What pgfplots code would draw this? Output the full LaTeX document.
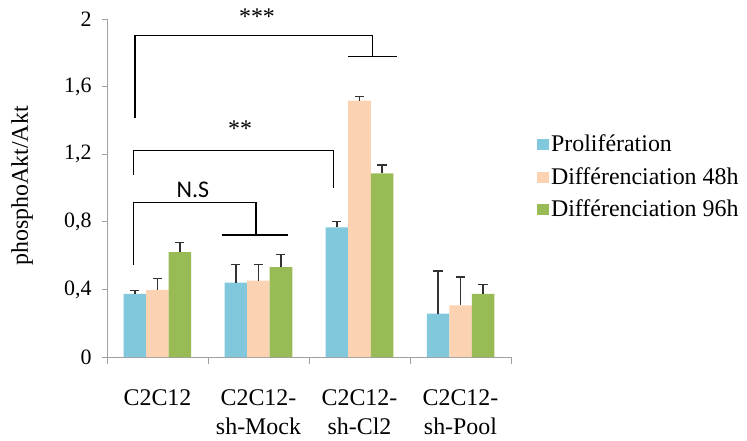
\documentclass[border=0pt]{standalone}
\usepackage{fontspec}
\setmainfont{Liberation Serif}
\newfontfamily\tnr{Liberation Serif}
\newfontfamily\nsfont{Carlito}
\usepackage{pgfplots}
\usepackage{pgfplotstable}
\pgfplotsset{compat=1.18}
\definecolor{cblue}{RGB}{130,200,220}
\definecolor{corange}{RGB}{251,211,178}
\definecolor{cgreen}{RGB}{152,187,86}
\definecolor{axgray}{RGB}{160,160,160}
\definecolor{errgray}{RGB}{50,50,50}

\pgfplotstableread{
x y e
0 0.373 0.022
1 0.440 0.108
2 0.767 0.033
3 0.256 0.253
}\prolif
\pgfplotstableread{
x y e
0 0.396 0.070
1 0.452 0.096
2 1.517 0.025
3 0.306 0.167
}\diffA
\pgfplotstableread{
x y e
0 0.621 0.055
1 0.532 0.073
2 1.087 0.049
3 0.373 0.057
}\diffB

\begin{document}
\begin{tikzpicture}
\useasboundingbox (-107bp,-84bp) rectangle (640bp,357bp);
\begin{axis}[
  scale only axis, width=404bp, height=338bp,
  xmin=-0.5, xmax=3.5, ymin=0, ymax=2,
  axis x line*=bottom, axis y line*=left,
  axis line style={axgray, line width=0.8bp},
  clip=false,
  ytick={0,0.4,0.8,1.2,1.6,2},
  yticklabel style={font=\tnr\fontsize{22}{26}\selectfont, xshift=-7bp, /pgf/number format/.cd, use comma, fixed, precision=1, assume math mode=true},
  y tick style={axgray, line width=0.8bp},
  xtick={0,1,2,3},
  xticklabels={C2C12, {C2C12-\\sh-Mock}, {C2C12-\\sh-Cl2}, {C2C12-\\sh-Pool}},
  xticklabel style={align=center, font=\tnr\fontsize{24}{29}\selectfont, anchor=north, yshift=-24bp},
  major x tick style={draw=none},
  minor xtick={-0.5,0.5,1.5,2.5,3.5},
  minor x tick style={axgray, line width=0.8bp},
  tick align=outside,
  major tick length=5bp, minor tick length=7bp,
  every axis y label/.style={at={(axis description cs:-0.210,0.506)}, rotate=90, anchor=center, font=\tnr\fontsize{24}{30}\selectfont},
  ylabel={phosphoAkt/Akt},
  ybar=0pt, bar width=22.5bp,
  legend style={at={(1.064,0.663)}, anchor=north west, draw=none, fill=none,
    font=\tnr\fontsize{24}{30}\selectfont, row sep=10bp, inner sep=0pt},
  legend cell align=left,
  legend image code/.code={\fill[#1] (0bp,-6bp) rectangle (12bp,5bp);},
  every error bar/.style={errgray, line width=1.2bp},
]
\addplot[fill=cblue, draw=none, bar shift=-22.5bp,
  error bars/.cd, y dir=plus, y explicit,
  error mark options={rotate=90, mark size=4.5bp, line width=1.2bp, errgray}]
  table[x=x, y=y, y error=e]{\prolif};
\addlegendentry{Prolifération}
\addplot[fill=corange, draw=none, bar shift=0bp,
  error bars/.cd, y dir=plus, y explicit,
  error mark options={rotate=90, mark size=4.5bp, line width=1.2bp, errgray}]
  table[x=x, y=y, y error=e]{\diffA};
\addlegendentry{Différenciation 48h}
\addplot[fill=cgreen, draw=none, bar shift=22.5bp,
  error bars/.cd, y dir=plus, y explicit,
  error mark options={rotate=90, mark size=4.5bp, line width=1.2bp, errgray}]
  table[x=x, y=y, y error=e]{\diffB};
\addlegendentry{Différenciation 96h}

% significance brackets
\draw[black, line width=1.2bp] (axis cs:-0.223,1.414) |- (axis cs:2.13,1.90) -- (axis cs:2.13,1.78);
\draw[black, line width=1.2bp] (axis cs:1.886,1.78) -- (axis cs:2.37,1.78);
\node[font=\tnr\fontsize{24}{30}\selectfont] at (axis cs:0.985,2.012) {***};

\draw[black, line width=1.2bp] (axis cs:-0.24,1.077) |- (axis cs:1.74,1.221) -- (axis cs:1.74,0.998);
\node[font=\tnr\fontsize{24}{30}\selectfont] at (axis cs:0.817,1.35) {**};

\draw[black, line width=1.2bp] (axis cs:-0.24,0.544) |- (axis cs:0.975,0.913) -- (axis cs:0.975,0.722);
\draw[black, line width=1.2bp] (axis cs:0.636,0.722) -- (axis cs:1.295,0.722);
\node[font=\nsfont\fontsize{24}{29}\selectfont] at (axis cs:0.351,0.988) {N.S};
\end{axis}
\end{tikzpicture}
\end{document}
